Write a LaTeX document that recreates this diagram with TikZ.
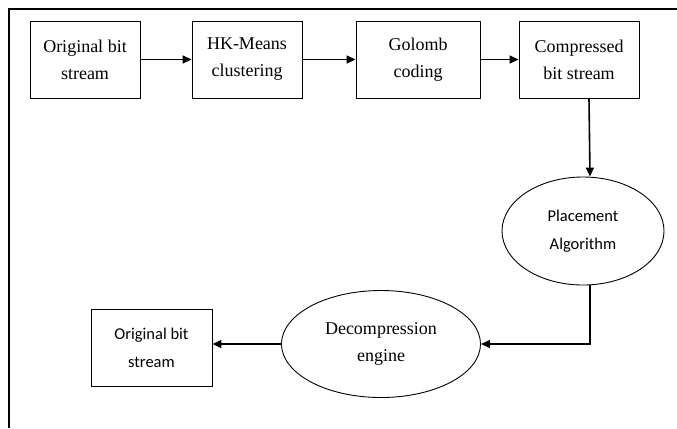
\documentclass[tikz,border=0pt]{standalone}
\usepackage{fontspec}
\setmainfont{Liberation Serif}
\newfontfamily\calibrifont{Carlito}
\usetikzlibrary{arrows.meta,shapes.geometric}

\begin{document}
\begin{tikzpicture}[
  x=1bp, y=-1bp,
  proc_box/.style={draw, rectangle, line width=0.9bp, minimum height=77bp, inner sep=0pt, align=center, font=\fontsize{18bp}{27bp}\selectfont},
  proc_oval/.style={draw, ellipse, line width=0.9bp, inner sep=0pt, align=center},
  flow_arrow/.style={line width=1.6bp, -{Triangle[length=9bp,width=8bp]}},
]
\useasboundingbox (0,0) rectangle (677,428);
% frame (cut off on the right and at the bottom)
\draw[line width=2.2bp] (9,428) -- (9,9) -- (677,9);

% compression chain
\draw (85,59.5) node (src) [proc_box, minimum width=110bp] {Original bit\\stream};
\draw (247,59.5) node (hkm) [proc_box, minimum width=110bp] {HK-Means\\clustering};
\draw (418,59.5) node (gol) [proc_box, minimum width=124bp] {Golomb\\coding};
\draw (579,59.5) node (cbs) [proc_box, minimum width=120bp] {Compressed\\bit stream};

% placement and decompression
\draw (583,231) node (plc) [proc_oval, minimum width=162bp, minimum height=108bp, font=\calibrifont\fontsize{16.5bp}{28bp}\selectfont] {Placement\\Algorithm};
\draw (381,344) node (dec) [proc_oval, minimum width=199bp, minimum height=107bp, font=\fontsize{18bp}{27bp}\selectfont] {Decompression\\engine};
\draw (151.5,347.5) node (out) [proc_box, minimum width=121bp, font=\calibrifont\fontsize{16.5bp}{28bp}\selectfont] {Original bit\\stream};

\draw[flow_arrow] (src.east) -- (hkm.west);
\draw[flow_arrow] (hkm.east) -- (gol.west);
\draw[flow_arrow] (gol.east) -- (cbs.west);
\draw[flow_arrow] ([xshift=10bp]cbs.south) -- ([xshift=7bp]plc.north);
\draw[flow_arrow, line width=1.2bp] ([xshift=7bp]plc.south) |- (dec.east);
\draw[flow_arrow] (dec.west) -- (dec.west -| out.east);
\end{tikzpicture}
\end{document}
